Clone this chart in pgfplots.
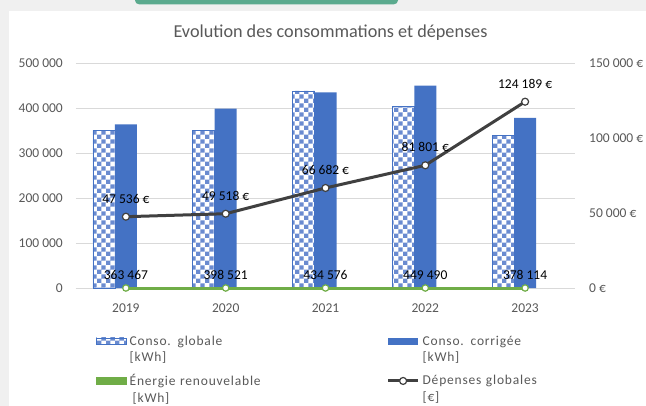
\documentclass[border=0pt]{standalone}
\usepackage{pgfplots}
\pgfplotsset{compat=1.18}
\usepackage{fontspec}
\setmainfont{Carlito}
\newfontfamily\legfam{Carlito}[LetterSpace=6]
\usetikzlibrary{patterns}
\definecolor{blueC}{HTML}{4472C4}
\definecolor{checkC}{HTML}{6A8BD0}
\definecolor{greenC}{HTML}{70AD47}
\definecolor{lineC}{HTML}{404040}
\definecolor{gridC}{HTML}{D9D9D9}
\definecolor{textC}{HTML}{595959}
\definecolor{bgC}{HTML}{F0F0F0}
\definecolor{topG}{HTML}{5BAA8E}
\pgfdeclarepatternformonly{bigchecker}{\pgfqpoint{0pt}{0pt}}{\pgfqpoint{8.8bp}{8.8bp}}{\pgfqpoint{8.8bp}{8.8bp}}{%
  \pgfpathrectangle{\pgfqpoint{0pt}{0pt}}{\pgfqpoint{4.4bp}{4.4bp}}%
  \pgfpathrectangle{\pgfqpoint{4.4bp}{4.4bp}}{\pgfqpoint{4.4bp}{4.4bp}}%
  \pgfusepath{fill}}
\newcommand\lab{\fontsize{13.5bp}{16bp}\selectfont}
\newcommand\legfont{\legfam\fontsize{13.5bp}{16.5bp}\selectfont}
\begin{document}
\begin{tikzpicture}
\fill[bgC] (-76bp,-118bp) rectangle (570bp,288bp);
\fill[white] (-67.3bp,-118bp) rectangle (570bp,277.3bp);
\fill[topG, rounded corners=4bp] (59bp,283.7bp) rectangle (322bp,300bp);
\node[anchor=base, text=textC, font=\fontsize{18.2bp}{20bp}\selectfont, inner sep=0pt] at (254.5bp,250bp) {Evolution des consommations et dépenses};
\begin{axis}[
  scale only axis, width=499bp, height=225bp,
  xmin=-0.5, xmax=4.5, ymin=0, ymax=500000,
  xtick={0,1,2,3,4}, xticklabels={2019,2020,2021,2022,2023},
  ytick={0,100000,200000,300000,400000,500000},
  yticklabels={0,100 000,200 000,300 000,400 000,500 000},
  scaled y ticks=false,
  ymajorgrids, grid style={gridC, line width=0.75bp},
  axis x line*=bottom, axis y line*=left,
  x axis line style={gridC, line width=0.75bp, -},
  y axis line style={draw=none},
  major tick length=0pt,
  tick label style={font=\lab, text=textC, inner sep=0pt},
  xticklabel style={anchor=base, yshift=-24.5bp},
  yticklabel style={anchor=base east, xshift=-13bp, yshift=-4.6bp},
  clip=false,
]
\addplot[ybar, bar width=22bp, bar shift=-22bp, draw=blueC, line width=0.6bp, fill=white,
  postaction={pattern=bigchecker, pattern color=checkC}]
  coordinates {(0,351000) (1,351000) (2,437800) (3,403000) (4,340000)};
\addplot[ybar, bar width=22bp, bar shift=0bp, draw=none, fill=blueC]
  coordinates {(0,363467) (1,398521) (2,434576) (3,449490) (4,378114)};
\addplot[greenC, line width=3bp, mark=*, mark size=3.2bp,
  mark options={fill=white, draw=greenC, line width=1.2bp}]
  coordinates {(0,0) (1,0) (2,0) (3,0) (4,0)};
\addplot[draw=none, mark=none, nodes near coords, point meta=explicit symbolic,
  every node near coord/.append style={anchor=base, font=\lab, text=black, inner sep=0pt}]
  coordinates {(0,20000) [363 467] (1,20000) [398 521] (2,20000) [434 576] (3,20000) [449 490] (4,20000) [378 114]};
\end{axis}
\begin{axis}[
  scale only axis, width=499bp, height=225bp,
  xmin=-0.5, xmax=4.5, ymin=0, ymax=150000,
  axis x line=none, axis y line*=right, y axis line style={draw=none},
  ytick={0,50000,100000,150000},
  yticklabels={0 €,50 000 €,100 000 €,150 000 €},
  scaled y ticks=false, major tick length=0pt,
  tick label style={font=\lab, text=textC, inner sep=0pt},
  yticklabel style={anchor=base west, xshift=14bp, yshift=-4.6bp},
  clip=false,
  legend columns=2,
  legend cell align=left,
  legend style={at={(0.0401,-0.212)}, anchor=north west, draw=none, fill=none,
    inner sep=0pt, outer sep=0pt, row sep=28bp, font=\legfont, text=textC,
    nodes={text width=257bp, align=left, inner sep=0pt},
    /tikz/every odd column/.append style={column sep=3bp}},
]
\addlegendimage{legend image code/.code={\draw[blueC, line width=0.6bp, fill=white, postaction={pattern=bigchecker, pattern color=checkC}] (0bp,-3.3bp) rectangle (30bp,3.3bp);}}
\addlegendentry{Conso. globale\\{}[kWh]}
\addlegendimage{legend image code/.code={\fill[blueC] (0bp,-3.3bp) rectangle (29bp,3.3bp);}}
\addlegendentry{Conso. corrigée\\{}[kWh]}
\addlegendimage{legend image code/.code={\fill[greenC] (0bp,-3.3bp) rectangle (30bp,3.3bp);}}
\addlegendentry{Énergie renouvelable\\\hspace*{3bp}[kWh]}
\addlegendimage{legend image code/.code={\draw[lineC, line width=3bp] (0bp,0bp) -- (30bp,0bp); \draw[lineC, fill=white, line width=1.2bp] (15bp,0bp) circle (3.5bp);}}
\addlegendentry{Dépenses globales\\{}[€]}
\addplot[lineC, line width=3bp, mark=*, mark size=3.5bp, forget plot,
  mark options={fill=white, draw=lineC, line width=1.2bp},
  nodes near coords, point meta=explicit symbolic,
  every node near coord/.append style={anchor=base, yshift=13.5bp, font=\lab, text=black, inner sep=0pt}]
  coordinates {(0,47536) [47 536 €] (1,49518) [49 518 €] (2,66682) [66 682 €] (3,81801) [81 801 €] (4,124189) [124 189 €]};
\end{axis}
\pgfresetboundingbox
\path[use as bounding box] (-76bp,-118bp) rectangle (570bp,288bp);
\end{tikzpicture}
\end{document}
